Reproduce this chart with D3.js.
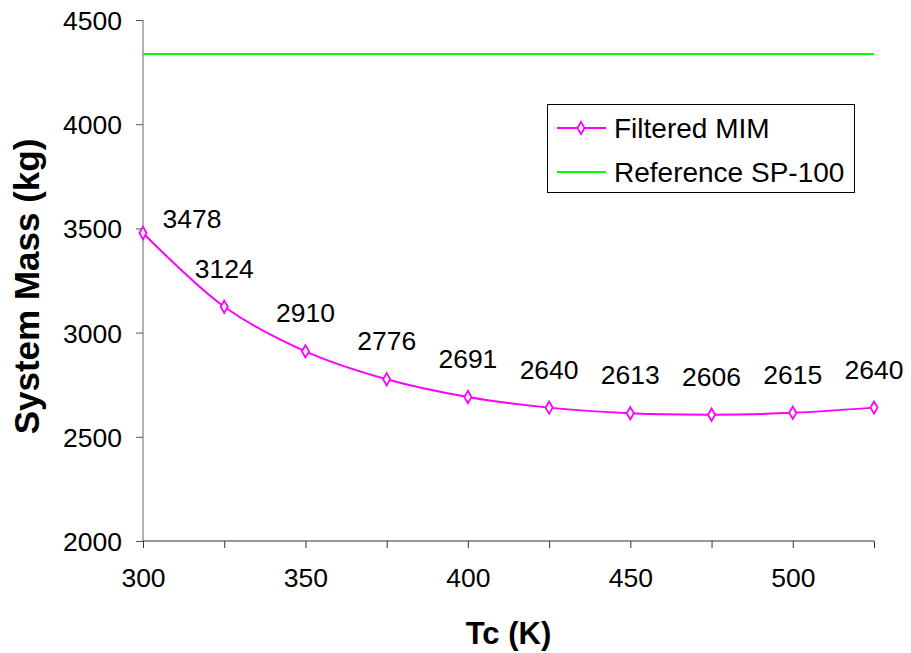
<!DOCTYPE html>
<html>
<head>
<meta charset="utf-8">
<script src="https://cdn.jsdelivr.net/npm/d3@7"></script>
<style>
  html, body { margin: 0; padding: 0; background: #fff; }
  svg { display: block; font-family: "Liberation Sans", Arial, sans-serif; }
</style>
</head>
<body>
<svg id="chart" width="911" height="653"></svg>
<script>
const tcValues = [300, 325, 350, 375, 400, 425, 450, 475, 500, 525];
const massValues = [3478, 3124, 2910, 2776, 2691, 2640, 2613, 2606, 2615, 2640];
const referenceMass = 4337;
const xTickValues = [300, 325, 350, 375, 400, 425, 450, 475, 500, 525];
const xTickLabels = ["300", "", "350", "", "400", "", "450", "", "500", ""];
const yTickValues = [2000, 2500, 3000, 3500, 4000, 4500];
const seriesNames = ["Filtered MIM", "Reference SP-100"];

const svg = d3.select("#chart");
const W = 911, H = 653;
const margin = { left: 143, right: W - 874, top: 20, bottom: H - 541 };

const x = d3.scaleLinear().domain([300, 525]).range([margin.left, W - margin.right]);
const y = d3.scaleLinear().domain([2000, 4500]).range([H - margin.bottom, margin.top]);

const magenta = "#ff00ff", green = "#00ff00";
const FS = 26.5;

// Y axis
const yAxis = d3.axisLeft(y).tickValues(yTickValues).tickSize(7).tickPadding(14).tickFormat(d3.format("d"));
const gy = svg.append("g").attr("transform", `translate(${margin.left},0)`).call(yAxis);
gy.select(".domain").attr("stroke", "#808080").attr("stroke-width", 1.2)
  .attr("d", `M0,${y(2000)}V${y(4500)}`);
gy.selectAll(".tick line").attr("stroke", "#555");
gy.selectAll(".tick text").attr("font-size", FS).attr("fill", "#000")
  .attr("font-family", "Liberation Sans, Arial, sans-serif").attr("x", -21).attr("dy", "0.36em");

// X axis
const xAxis = d3.axisBottom(x).tickValues(xTickValues).tickSize(7).tickPadding(14)
  .tickFormat((d, i) => xTickLabels[i]);
const gx = svg.append("g").attr("transform", `translate(0,${H - margin.bottom})`).call(xAxis);
gx.select(".domain").attr("stroke", "#333").attr("stroke-width", 1.2)
  .attr("d", `M${x(300)},0H${x(525)}`);
gx.selectAll(".tick line").attr("stroke", "#333");
gx.selectAll(".tick text").attr("font-size", FS).attr("fill", "#000")
  .attr("font-family", "Liberation Sans, Arial, sans-serif").attr("y", 46).attr("dy", 0);

// Reference line
svg.append("line")
  .attr("x1", x(300)).attr("x2", x(525))
  .attr("y1", y(referenceMass)).attr("y2", y(referenceMass))
  .attr("stroke", green).attr("stroke-width", 2);

// Smoothed line
const data = tcValues.map((t, i) => ({ t, m: massValues[i] }));
const line = d3.line().x(d => x(d.t)).y(d => y(d.m)).curve(d3.curveCatmullRom.alpha(0.5));
svg.append("path").datum(data).attr("d", line)
  .attr("fill", "none").attr("stroke", magenta).attr("stroke-width", 2);

// Markers
const diamond = d3.symbol().type(d3.symbolDiamond).size(44);
svg.selectAll(".mk").data(data).enter().append("path")
  .attr("class", "mk")
  .attr("transform", d => `translate(${x(d.t)},${y(d.m)})`)
  .attr("d", diamond)
  .attr("fill", "#fff").attr("stroke", magenta).attr("stroke-width", 1.8);

// Data labels
svg.selectAll(".lbl").data(data).enter().append("text")
  .attr("class", "lbl")
  .attr("x", (d, i) => x(d.t) + (i === 0 ? 49 : 0))
  .attr("y", (d, i) => y(d.m) + (i === 0 ? -5 : -29))
  .attr("text-anchor", "middle")
  .attr("font-size", FS)
  .attr("fill", "#000")
  .text(d => d.m);

// Axis titles
svg.append("text")
  .attr("x", (x(300) + x(525)) / 2).attr("y", 644)
  .attr("text-anchor", "middle").attr("font-size", 31).attr("font-weight", "bold")
  .text("Tc (K)");
svg.append("text")
  .attr("transform", `translate(39,${(y(2000) + y(4500)) / 2 + 6}) rotate(-90)`)
  .attr("text-anchor", "middle").attr("font-size", 35).attr("font-weight", "bold")
  .text("System Mass (kg)");

// Legend
const lg = svg.append("g");
lg.append("rect").attr("x", 547.5).attr("y", 104.5).attr("width", 307).attr("height", 88)
  .attr("fill", "#fff").attr("stroke", "#000").attr("stroke-width", 1);
const legendRows = [
  { name: seriesNames[0], color: magenta, marker: true, yy: 128 },
  { name: seriesNames[1], color: green, marker: false, yy: 172 }
];
legendRows.forEach(r => {
  lg.append("line").attr("x1", 557).attr("x2", 606).attr("y1", r.yy).attr("y2", r.yy)
    .attr("stroke", r.color).attr("stroke-width", 2);
  if (r.marker) {
    lg.append("path").attr("transform", `translate(581,${r.yy})`).attr("d", diamond)
      .attr("fill", "#fff").attr("stroke", r.color).attr("stroke-width", 1.8);
  }
  lg.append("text").attr("x", 614).attr("y", r.yy + 9.5).attr("font-size", 28).attr("fill", "#000").text(r.name);
});
</script>
</body>
</html>
